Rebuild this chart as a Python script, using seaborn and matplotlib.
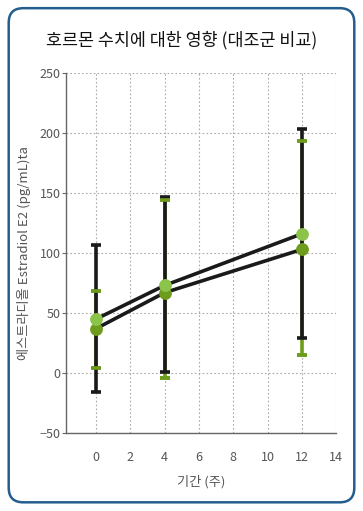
import numpy as np
import pandas as pd
import matplotlib.pyplot as plt
import seaborn as sns
from matplotlib.patches import FancyBboxPatch

weeks = [0, 4, 12]
light_mean = [45, 73, 116]
light_low = [-16, 1, 29]
light_high = [107, 147, 203]
dark_mean = [37, 67, 103]
dark_low = [4.5, -4, 15]
dark_high = [68, 144, 193]

sns.set_style('white')
plt.rcParams['font.family'] = ['Noto Sans CJK KR', 'DejaVu Sans']

fig = plt.figure(figsize=(3.63, 5.11), dpi=100)
ax = fig.add_axes([0.182, 0.1526, 0.744, 0.7045])

border = FancyBboxPatch((0.024, 0.017), 0.952, 0.967, boxstyle='round,pad=0,rounding_size=0.04',
                        transform=fig.transFigure, fill=False, edgecolor='#245e8e', linewidth=1.8,
                        mutation_aspect=363 / 511)
fig.patches.append(border)

df = pd.DataFrame({'week': weeks * 2,
                   'value': light_mean + dark_mean,
                   'group': ['light'] * 3 + ['dark'] * 3})

light_err = [np.array(light_mean) - np.array(light_low), np.array(light_high) - np.array(light_mean)]
dark_err = [np.array(dark_mean) - np.array(dark_low), np.array(dark_high) - np.array(dark_mean)]

# green bars under the black ones, green caps drawn on top
ax.errorbar(weeks, dark_mean, yerr=dark_err, fmt='none', ecolor='#6e9c1c', elinewidth=2.6,
            capsize=3.4, capthick=2.6, zorder=2)
ax.errorbar(weeks, light_mean, yerr=light_err, fmt='none', ecolor='#1a1a1a', elinewidth=2.6,
            capsize=3.8, capthick=2.6, zorder=3)
ax.errorbar(weeks, dark_mean, yerr=dark_err, fmt='none', ecolor='#6e9c1c', elinewidth=0,
            capsize=3.4, capthick=2.6, zorder=3.5)

sns.lineplot(data=df[df.group == 'light'], x='week', y='value', color='#1a1a1a', linewidth=2.6,
             ax=ax, zorder=4)
sns.lineplot(data=df[df.group == 'dark'], x='week', y='value', color='#1a1a1a', linewidth=2.6,
             ax=ax, zorder=4)
ax.scatter(weeks, light_mean, s=85, color='#8cc44a', zorder=6, linewidths=0)
ax.scatter(weeks, dark_mean, s=85, color='#6e9c1c', zorder=5, linewidths=0)

ax.set_xlim(-1.75, 14)
ax.set_ylim(-50, 250)
ax.set_xticks(range(0, 15, 2))
ax.set_yticks(range(-50, 251, 50))
ax.grid(True, linestyle=(0, (1.5, 2)), color='#aaaaaa', linewidth=0.8)
for s in ['top', 'right']:
    ax.spines[s].set_visible(False)
ax.spines['left'].set_color('#666666')
ax.spines['bottom'].set_color('#666666')
ax.spines['left'].set_linewidth(1.0)
ax.spines['bottom'].set_linewidth(1.0)
ax.tick_params(axis='x', length=0, pad=13, labelsize=9, labelcolor='#555555')
ax.tick_params(axis='y', length=3, pad=1, labelsize=9, labelcolor='#555555', color='#666666', left=True)

ax.set_xlabel('기간 (주)', fontsize=9.5, color='#555555', labelpad=8)
ax.set_ylabel('에스트라디올 Estradiol E2 (pg/mL)ta', fontsize=9.5, color='#555555', labelpad=6)
fig.text(0.5, 0.921, '호르몬 수치에 대한 영향 (대조군 비교)', ha='center', va='center',
         fontsize=12.5, color='#111111', fontweight='medium')

fig.savefig('out.png', dpi=100)
